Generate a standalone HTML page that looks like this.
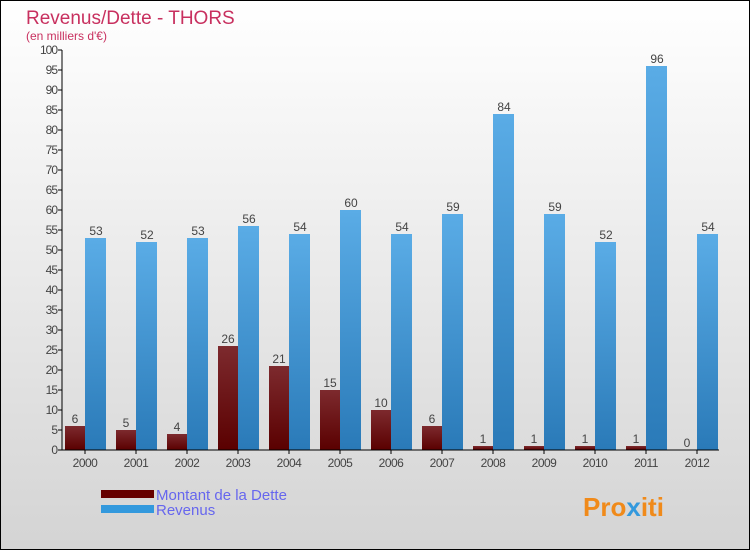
<!DOCTYPE html>
<html><head><meta charset="utf-8"><style>
body{margin:0}
#c{width:750px;height:550px;position:relative;box-sizing:border-box;border:1px solid #000;background:linear-gradient(#fff,#d4d4d4);font-family:"Liberation Sans",sans-serif;overflow:hidden}
</style></head><body>
<div id="c">
<svg width="748" height="548" xmlns="http://www.w3.org/2000/svg" id="s">
<defs>
<linearGradient id="gd" x1="0" y1="0" x2="0" y2="1"><stop offset="0" stop-color="#7d2a2e"/><stop offset="1" stop-color="#5a0000"/></linearGradient>
<linearGradient id="gr" x1="0" y1="0" x2="0" y2="1"><stop offset="0" stop-color="#5aace6"/><stop offset="1" stop-color="#2a7ab8"/></linearGradient>
</defs>
<text x="25" y="23" font-size="19" fill="#c8305f">Revenus/Dette - THORS</text>
<text x="25" y="39" font-size="12" fill="#c8305f">(en milliers d'€)</text>
<g id="g"></g>
<rect x="100" y="489" width="53" height="8" fill="#660000"/>
<rect x="100" y="504" width="53" height="8" fill="#3399dd"/>
<text x="155" y="499" font-size="15" fill="#6666ee">Montant de la Dette</text>
<text x="155" y="514" font-size="15" fill="#6666ee">Revenus</text>
<text x="582" y="515" font-size="26" font-weight="bold" fill="#f08a1a">Pro<tspan fill="#3399dd">x</tspan>iti</text>
</svg>
</div>
<script>
const years=["2000","2001","2002","2003","2004","2005","2006","2007","2008","2009","2010","2011","2012"];
const debt=[6,5,4,26,21,15,10,6,1,1,1,1,0];
const revenue=[53,52,53,56,54,60,54,59,84,59,52,96,54];
const yTicks=[0,5,10,15,20,25,30,35,40,45,50,55,60,65,70,75,80,85,90,95,100];
const NS="http://www.w3.org/2000/svg";
const g=document.getElementById('g');
const y=v=>449-v*4, x0=i=>64+51*i;
function mk(t,a,txt){const e=document.createElementNS(NS,t);for(const k in a)e.setAttribute(k,a[k]);if(txt!==undefined)e.textContent=txt;g.appendChild(e);return e;}
yTicks.forEach(v=>{
 const l=mk('line',{x1:57,x2:61,y1:y(v),y2:y(v),stroke:'#000'});
 
 
 const t=mk('text',{x:56,y:y(v)+4,'font-size':12,'text-anchor':'end',fill:'#444','letter-spacing':'-1'},v);
 
 
});
years.forEach((yr,i)=>{
 const x=x0(i);
 const b1=mk('rect',{x:x,y:y(debt[i]),width:20,height:debt[i]*4,fill:'url(#gd)'});
 
 
 const b2=mk('rect',{x:x+20,y:y(revenue[i]),width:21,height:revenue[i]*4,fill:'url(#gr)'});
 
 
 const t1=mk('text',{x:x+10,y:y(debt[i])-3,'font-size':12,'text-anchor':'middle',fill:'#444'},debt[i]);
 
 
 const t2=mk('text',{x:x+31,y:y(revenue[i])-3,'font-size':12,'text-anchor':'middle',fill:'#444'},revenue[i]);
 
 
 const tk=mk('line',{x1:x+20,x2:x+20,y1:449,y2:453,stroke:'#000'});
 
 
 const xl=mk('text',{x:x+20,y:466,'font-size':12,'text-anchor':'middle',fill:'#444','letter-spacing':'-0.5'},yr);
 
 
});
const ay=mk('line',{x1:61,x2:61,y1:49,y2:449,stroke:'#000'});


const ax=mk('line',{x1:61,x2:718,y1:449,y2:449,stroke:'#000'});


</script>
</body></html>
